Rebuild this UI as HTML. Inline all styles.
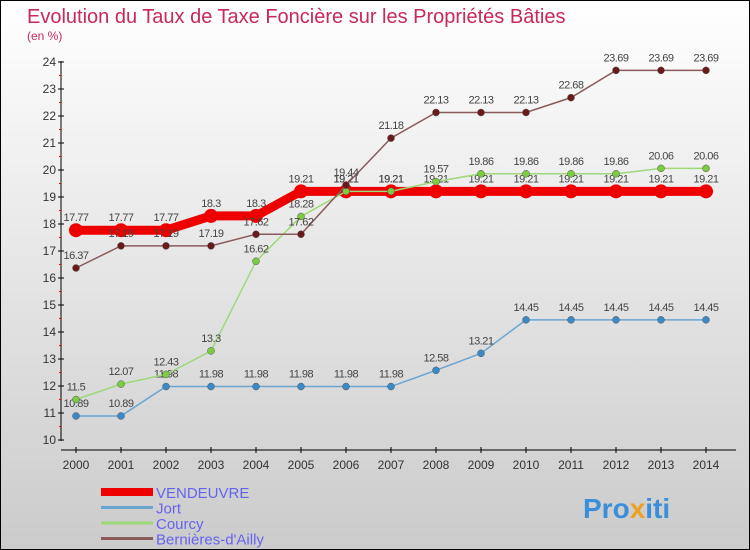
<!DOCTYPE html>
<html><head><meta charset="utf-8"><style>
body{margin:0}
#c{position:relative;width:750px;height:550px;box-sizing:border-box;border:1px solid #000;background:linear-gradient(#fff,#cbcbcb);font-family:"Liberation Sans",sans-serif;overflow:hidden}
</style></head><body>
<div id="c">
<svg id="s" width="748" height="548">
<text x="26" y="22" font-size="20" fill="#c8285a">Evolution du Taux de Taxe Foncière sur les Propriétés Bâties</text>
<text x="26" y="39" font-size="12" fill="#c8285a">(en %)</text>
<g id="g"></g>
<text x="582" y="517" font-size="28" font-weight="bold" fill="#3a8fd8">Pro<tspan fill="#f0a020">x</tspan>iti</text>
</svg>
</div>
<script>
const years=[2000,2001,2002,2003,2004,2005,2006,2007,2008,2009,2010,2011,2012,2013,2014];
const yTicks=[10,11,12,13,14,15,16,17,18,19,20,21,22,23,24];
const vendeuvre=[17.77,17.77,17.77,18.3,18.3,19.21,19.21,19.21,19.21,19.21,19.21,19.21,19.21,19.21,19.21];
const jort=[10.89,10.89,11.98,11.98,11.98,11.98,11.98,11.98,12.58,13.21,14.45,14.45,14.45,14.45,14.45];
const courcy=[11.5,12.07,12.43,13.3,16.62,18.28,19.21,19.21,19.57,19.86,19.86,19.86,19.86,20.06,20.06];
const bernieres=[16.37,17.19,17.19,17.19,17.62,17.62,19.44,21.18,22.13,22.13,22.13,22.68,23.69,23.69,23.69];
const names=["VENDEUVRE","Jort","Courcy","Bernières-d'Ailly"];
const NS="http://www.w3.org/2000/svg";
const g=document.getElementById('g');
const X=i=>75+i*45, Y=v=>439-(v-10)*27;
function mk(t,a,p){const e=document.createElementNS(NS,t);for(const k in a)e.setAttribute(k,a[k]);(p||g).appendChild(e);return e;}
let ax=mk('line',{x1:60,y1:60,x2:60,y2:440,stroke:'#000'});


let bx=mk('line',{x1:60,y1:449,x2:735,y2:449,stroke:'#000'});


yTicks.forEach(v=>{
 mk('line',{x1:57,x2:63,y1:Y(v),y2:Y(v),stroke:'#000'});
 if(v<24)mk('line',{x1:58,x2:60,y1:Y(v+0.5),y2:Y(v+0.5),stroke:'#f00'});
 const t=mk('text',{x:55,y:Y(v)+4,'font-size':12,'text-anchor':'end',fill:'#333'});t.textContent=v;
 
 
});
years.forEach((y,i)=>{
 mk('line',{x1:X(i),x2:X(i),y1:446,y2:452,stroke:'#000'});
 const t=mk('text',{x:X(i),y:468,'font-size':12,'text-anchor':'middle',fill:'#333'});t.textContent=y;
 
 
});
const series=[[vendeuvre,'#ee0000',9,7,'#ee0000'],[jort,'#6aa5d0',1.5,3.5,'#3a8ac8'],[courcy,'#9ed878',1.5,3.5,'#7ccc40'],[bernieres,'#8a5a5a',1.5,3.5,'#6a1a1a']];
series.forEach(([d,c,w,r,mc],si)=>{
 const p=mk('polyline',{points:d.map((v,i)=>X(i)+','+Y(v)).join(' '),fill:'none',stroke:c,'stroke-width':w});
 
 
 d.forEach((v,i)=>{
  const m=mk('circle',{cx:X(i),cy:Y(v),r:r,fill:mc,stroke:si?'#555':'none','stroke-width':0.5});
  
  
  const t=mk('text',{x:X(i),y:Y(v)-9,'font-size':11,'text-anchor':'middle',fill:'#444','letter-spacing':'-0.5'});
  t.textContent=v;
  
  
 });
 const ly=491+si*15.5;
 const l=mk('line',{x1:100,x2:152,y1:ly,y2:ly,stroke:c,'stroke-width':si?3:8});
 
 
 const lt=mk('text',{x:155,y:ly+6,'font-size':15,fill:'#6464f0'});lt.textContent=names[si];
 
 
});
</script>
</body></html>
